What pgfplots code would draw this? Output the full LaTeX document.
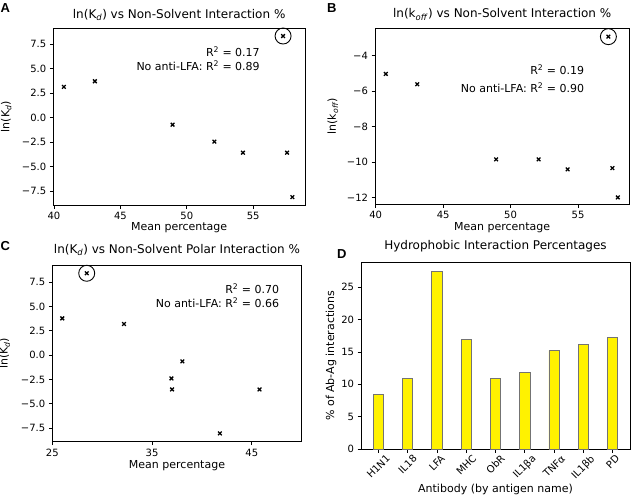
\documentclass[border=0pt]{standalone}
\usepackage{fontspec}
\setmainfont{DejaVu Sans}
\newfontfamily\labfont{Liberation Sans}
\usepackage{graphicx}
\usepackage{pgfplots}
\pgfplotsset{compat=1.18}
\pgfplotsset{
  mpl/.style={
    scale only axis,
    axis line style={line width=0.9bp},
    tick align=outside,
    tick pos=left,
    major tick length=3.5bp,
    every tick/.style={black, line width=0.8bp},
    tick label style={font=\fontsize{10bp}{12bp}\selectfont},
    label style={font=\fontsize{11bp}{13bp}\selectfont},
    title style={font=\fontsize{12bp}{14bp}\selectfont},
    clip=false,
  },
  xmark/.style={only marks, mark=x, mark size=2.6bp, black, mark options={line width=1.3bp}},
  cmark/.style={only marks, mark=o, mark size=8bp, black, mark options={line width=0.9bp}},
}
\newcommand{\rl}[1]{\rotatebox{45}{#1}}
\begin{document}
\begin{tikzpicture}
\path[use as bounding box] (0,0) rectangle (633bp,-497bp);

% Panel A
\begin{axis}[mpl, name=A,
  at={(53.3bp,-205bp)}, anchor=south west,
  width=251.7bp, height=176.7bp,
  xmin=39.95, xmax=58.9, ymin=-8.93, ymax=9.14,
  xtick={40,45,50,55}, xticklabels={40,45,50,55},
  ytick={-7.5,-5,-2.5,0,2.5,5,7.5},
  yticklabels={−7.5,−5.0,−2.5,0.0,2.5,5.0,7.5},
  title={ln(K\textsubscript{\textit{d}}) vs Non-Solvent Interaction \%},
  title style={at={(axis description cs:0.5,1.023)}, anchor=base},
  xlabel={Mean percentage},
  xlabel style={at={(axis description cs:0.5,-0.147)}, anchor=base},
  ylabel={ln(K\textsubscript{\textit{d}})},
  ylabel style={at={(axis description cs:-0.152,0.5)}, anchor=south},
]
\addplot[xmark] coordinates {(40.75,3.15) (43.08,3.72) (57.25,8.35) (48.93,-0.72) (52.08,-2.45) (54.23,-3.58) (57.55,-3.58) (57.95,-8.12)};
\addplot[cmark] coordinates {(57.25,8.35)};
\node[anchor=east, font=\fontsize{11bp}{13bp}\selectfont, inner sep=0pt] at (rel axis cs:0.821,0.868) {R\textsuperscript{2} = 0.17};
\node[anchor=east, font=\fontsize{11bp}{13bp}\selectfont, inner sep=0pt] at (rel axis cs:0.821,0.788) {No anti-LFA: R\textsuperscript{2} = 0.89};
\end{axis}

% Panel B
\begin{axis}[mpl, name=B,
  at={(375bp,-204bp)}, anchor=south west,
  width=254.3bp, height=175.7bp,
  xmin=39.95, xmax=58.8, ymin=-12.35, ymax=-2.46,
  xtick={40,45,50,55}, xticklabels={40,45,50,55},
  ytick={-12,-10,-8,-6,-4},
  yticklabels={−12,−10,−8,−6,−4},
  title={ln(k\textsubscript{\textit{off}}) vs Non-Solvent Interaction \%},
  title style={at={(axis description cs:0.5,1.026)}, anchor=base},
  xlabel={Mean percentage},
  xlabel style={at={(axis description cs:0.5,-0.151)}, anchor=base},
  ylabel={ln(k\textsubscript{\textit{off}})},
  ylabel style={at={(axis description cs:-0.131,0.5)}, anchor=south},
]
\addplot[xmark] coordinates {(40.75,-5.03) (43.08,-5.61) (57.25,-2.93) (48.93,-9.84) (52.08,-9.84) (54.23,-10.40) (57.55,-10.33) (57.95,-11.98)};
\addplot[cmark] coordinates {(57.25,-2.93)};
\node[anchor=east, font=\fontsize{11bp}{13bp}\selectfont, inner sep=0pt] at (rel axis cs:0.823,0.763) {R\textsuperscript{2} = 0.19};
\node[anchor=east, font=\fontsize{11bp}{13bp}\selectfont, inner sep=0pt] at (rel axis cs:0.823,0.664) {No anti-LFA: R\textsuperscript{2} = 0.90};
\end{axis}

% Panel C
\begin{axis}[mpl, name=C,
  at={(52.3bp,-441.7bp)}, anchor=south west,
  width=249.4bp, height=176.7bp,
  xmin=25, xmax=50, ymin=-8.9, ymax=9.25,
  xtick={25,35,45}, xticklabels={25,35,45},
  ytick={-7.5,-5,-2.5,0,2.5,5,7.5},
  yticklabels={−7.5,−5.0,−2.5,0.0,2.5,5.0,7.5},
  title={ln(K\textsubscript{\textit{d}}) vs Non-Solvent Polar Interaction \%},
  title style={at={(axis description cs:0.5,1.034)}, anchor=base},
  xlabel={Mean percentage},
  xlabel style={at={(axis description cs:0.5,-0.149)}, anchor=base},
  ylabel={ln(K\textsubscript{\textit{d}})},
  ylabel style={at={(axis description cs:-0.156,0.5)}, anchor=south},
]
\addplot[xmark] coordinates {(26.0,3.77) (28.45,8.4) (32.19,3.19) (36.94,-2.4) (37.0,-3.53) (38.04,-0.65) (41.8,-8.05) (45.77,-3.53)};
\addplot[cmark] coordinates {(28.45,8.4)};
\node[anchor=east, font=\fontsize{11bp}{13bp}\selectfont, inner sep=0pt] at (rel axis cs:0.91,0.868) {R\textsuperscript{2} = 0.70};
\node[anchor=east, font=\fontsize{11bp}{13bp}\selectfont, inner sep=0pt] at (rel axis cs:0.91,0.789) {No anti-LFA: R\textsuperscript{2} = 0.66};
\end{axis}

% Panel D
\begin{axis}[mpl, name=D,
  at={(361bp,-449bp)}, anchor=south west,
  width=269bp, height=186.3bp,
  xmin=-0.59, xmax=8.59, ymin=0, ymax=28.8,
  xtick={0,1,2,3,4,5,6,7,8},
  xticklabels={\rl{H1N1},\rl{IL18},\rl{LFA},\rl{MHC},\rl{ObR},\rl{IL1βa},\rl{TNFα},\rl{IL1βb},\rl{PD}},
  x tick label style={anchor=north, inner sep=1.5bp},
  ytick={0,5,10,15,20,25}, yticklabels={0,5,10,15,20,25},
  title={Hydrophobic Interaction Percentages},
  title style={at={(axis description cs:0.5,1.038)}, anchor=base},
  xlabel={Antibody (by antigen name)},
  xlabel style={at={(axis description cs:0.5,-0.231)}, anchor=base},
  ylabel={\% of Ab-Ag interactions},
  ylabel style={at={(axis description cs:-0.078,0.5)}, anchor=south},
]
\addplot[ybar, bar width=0.35, bar shift=0pt, fill=yellow, draw=black!55, line width=0.8bp]
  coordinates {(0,8.45) (1,10.93) (2,27.45) (3,17.0) (4,10.93) (5,11.85) (6,15.2) (7,16.2) (8,17.25)};
\end{axis}

\node[anchor=base west, font=\labfont\bfseries\fontsize{13bp}{15bp}\selectfont, inner sep=0pt] at (0.5bp,-12bp) {A};
\node[anchor=base west, font=\labfont\bfseries\fontsize{13bp}{15bp}\selectfont, inner sep=0pt] at (327bp,-12bp) {B};
\node[anchor=base west, font=\labfont\bfseries\fontsize{13bp}{15bp}\selectfont, inner sep=0pt] at (0.5bp,-250.5bp) {C};
\node[anchor=base west, font=\labfont\bfseries\fontsize{13bp}{15bp}\selectfont, inner sep=0pt] at (337bp,-258.5bp) {D};
\end{tikzpicture}
\end{document}
